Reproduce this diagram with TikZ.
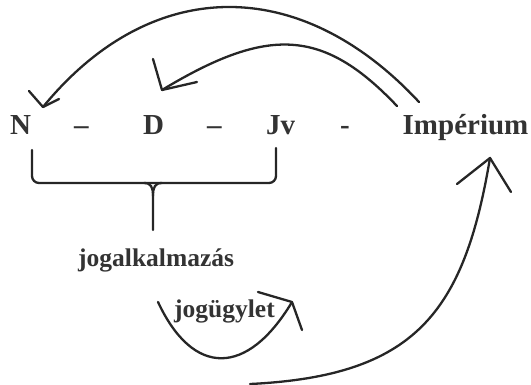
\documentclass[tikz,border=0pt]{standalone}
\usepackage{fontspec}
\setmainfont{Liberation Serif}
\begin{document}
\begin{tikzpicture}[x=1pt,y=-1pt,
  lbl/.style={inner sep=0pt,anchor=base west,font=\bfseries\fontsize{29}{32}\selectfont,text=black!80},
  sublbl/.style={inner sep=0pt,anchor=base west,font=\bfseries\fontsize{25.5}{28}\selectfont,text=black!80},
  pen/.style={line width=2.3pt,line cap=round,line join=round,draw=black!85}]
\useasboundingbox (0,0) rectangle (531,384);
% words
\node[lbl] (N) at (10,134) {N};
\node[lbl] (d1) at (74,134) {–};
\node[lbl] (D) at (143,134) {D};
\node[lbl] (d2) at (207,134) {–};
\node[lbl] (Jv) at (266,134) {Jv};
\node[lbl] (d3) at (340,134) {-};
\node[lbl] (Imp) at (402.5,134) {Impérium};
\node[sublbl] (jal) at (78,266) {jogalkalmazás};
\node[sublbl] (jgy) at (174,317) {jogügylet};
% coordinates for the hand-drawn arrows
\coordinate (bigS) at (419,102);
\coordinate (tipN) at (43,107);
\coordinate (smS) at (397,106);
\coordinate (tipD) at (162,90);
\coordinate (botS) at (250,384);
\coordinate (tipI) at (490,158);
\coordinate (uS) at (158,302);
\coordinate (tipU) at (292,302);
% Imperium -> N
\draw[pen] (bigS) .. controls (300,-26) and (151,-25) .. (tipN);
\draw[pen] (29,91) -- (tipN) -- (59,99);
% Imperium -> D
\draw[pen] (smS) .. controls (323,28) and (268,26) .. (tipD);
\draw[pen] (153,59) -- (tipD) -- (197,82);
% bottom -> Imperium
\draw[pen] (botS) .. controls (415,376) and (464,313) .. (tipI);
\draw[pen] (457,184) -- (tipI) -- (511,192);
% jogugylet loop
\draw[pen] (uS) .. controls (193,377) and (247,377) .. (tipU);
\draw[pen] (258,292) -- (tipU) -- (302,330);
% brace under N ... Jv
\draw[pen,rounded corners=7pt] (32,150) -- (32,183) -- (276,183) -- (276,148);
\draw[pen] (144,183) .. controls (151,183) and (153,187) .. (153,196) -- (153,230);
\draw[pen] (162,183) .. controls (155,183) and (153,187) .. (153,196);
\end{tikzpicture}
\end{document}
